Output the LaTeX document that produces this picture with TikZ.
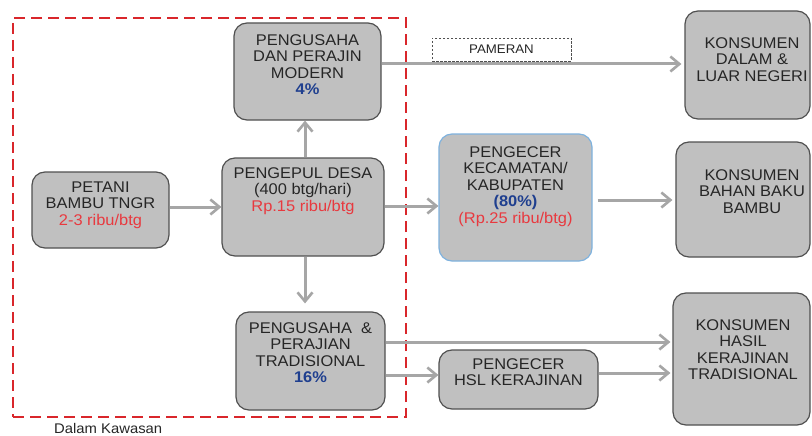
\documentclass[tikz,border=0pt]{standalone}
\usepackage{fontspec}
\setmainfont{Liberation Sans}[FakeStretch=1.06]
\usetikzlibrary{arrows.meta,calc}
\definecolor{boxfill}{HTML}{C0C0C0}
\definecolor{boxline}{HTML}{505050}
\definecolor{arrgray}{HTML}{A6A6A6}
\definecolor{kred}{HTML}{D9262B}
\definecolor{tred}{HTML}{E8393F}
\definecolor{tblue}{HTML}{1F3F8F}
\definecolor{lblue}{HTML}{7FB2DE}
\definecolor{tdark}{HTML}{262626}
\begin{document}
\begin{tikzpicture}[x=1pt,y=-1pt,
  box/.style={draw=boxline, fill=boxfill, line width=1.2pt, rounded corners=13pt, inner sep=0pt},
  txt/.style={align=center, inner sep=0pt, anchor=north, text=tdark, font=\fontsize{15.5}{16.5}\selectfont},
  arr/.style={draw=arrgray, line width=3pt, -{Straight Barb[length=9pt,width=15pt,line width=2.6pt]}},
  kawasanbox/.style={draw=kred, line width=2.8pt, dash pattern=on 11pt off 6pt, inner sep=0pt},
  pameranbox/.style={draw=boxline, line width=0.8pt, dash pattern=on 2.5pt off 1.5pt, inner sep=0pt}]
\useasboundingbox (0,0) rectangle (812,436);
\fill[white] (0,0) rectangle (812,436);
\clip (0,0) rectangle (812,436);

% red dashed region
\node[kawasanbox, minimum width=393pt, minimum height=399pt] (kawasan) at (209.5,217.5) {};
\node[anchor=base west, inner sep=0pt, text=tdark, font=\fontsize{14}{15}\selectfont] (kawasanlbl) at (54,433) {Dalam Kawasan};

% boxes
\node[box, minimum width=147pt, minimum height=97pt] (modern) at (307.5,71.5) {};
\node[box, minimum width=137pt, minimum height=76pt] (petani) at (100.5,210) {};
\node[box, minimum width=162pt, minimum height=98pt] (pengepul) at (303,207) {};
\node[box, minimum width=149pt, minimum height=98pt] (trad) at (310.5,361) {};
\node[box, draw=lblue, minimum width=153pt, minimum height=127pt] (pengecerK) at (515.5,197.5) {};
\node[box, minimum width=159pt, minimum height=59pt] (pengecerH) at (518.5,379.5) {};
\node[box, minimum width=125pt, minimum height=108pt] (konD) at (747.5,65) {};
\node[box, minimum width=134pt, minimum height=115pt] (konB) at (743,199.5) {};
\node[box, minimum width=137pt, minimum height=132pt] (konH) at (741.5,359) {};
\node[pameranbox, minimum width=139pt, minimum height=23pt, text=tdark, font=\fontsize{12.5}{13}\selectfont] (pameran) at (501.5,49.5) {PAMERAN};

% texts
\node[txt] (modernT) at (307.5,34.4) {PENGUSAHA\\DAN PERAJIN\\MODERN\\\textcolor{tblue}{\textbf{4\%}}};
\node[txt] (petaniT) at (100.5,181.4) {PETANI\\BAMBU TNGR\\\textcolor{tred}{2-3 ribu/btg}};
\node[txt] (pengepulT) at (303,167.4) {PENGEPUL DESA\\(400 btg/hari)\\\textcolor{tred}{Rp.15 ribu/btg}};
\node[txt] (tradT) at (310.5,322.4) {PENGUSAHA\ \ \&\\PERAJIAN\\TRADISIONAL\\\textcolor{tblue}{\textbf{16\%}}};
\node[txt] (pengecerKT) at (515.5,146.4) {PENGECER\\KECAMATAN/\\KABUPATEN\\\textcolor{tblue}{\textbf{(80\%)}}\\\textcolor{tred}{(Rp.25 ribu/btg)}};
\node[txt] (pengecerHT) at (518.5,358.4) {PENGECER\\HSL KERAJINAN};
\node[txt] (konDT) at (752,37.4) {KONSUMEN\\DALAM \&\\LUAR NEGERI};
\node[txt] (konBT) at (752,169.4) {KONSUMEN\\BAHAN BAKU\\BAMBU};
\node[txt] (konHT) at (743,319.4) {KONSUMEN\\HASIL\\KERAJINAN\\TRADISIONAL};

% connectors
\draw[arr] (petani.east |- 0,207) -- (pengepul.west |- 0,207);
\draw[arr] (pengepul.north -| 305,0) -- (modern.south -| 305,0);
\draw[arr, shorten >=8pt] (pengepul.south -| 305,0) -- (trad.north -| 305,0);
\draw[arr, shorten >=3pt] (modern.east |- 0,64) -- (konD.west |- 0,64);
\draw[arr] (pengepul.east |- 0,206) -- (pengecerK.west |- 0,206);
\draw[arr, shorten <=5pt, shorten >=3pt] (pengecerK.east |- 0,200) -- (konB.west |- 0,200);
\draw[arr, shorten >=2pt] (trad.east |- 0,342) -- (konH.west |- 0,342);
\draw[arr] (trad.east |- 0,375) -- (pengecerH.west |- 0,375);
\draw[arr, shorten >=2pt] (pengecerH.east |- 0,373) -- (konH.west |- 0,373);
\end{tikzpicture}
\end{document}
